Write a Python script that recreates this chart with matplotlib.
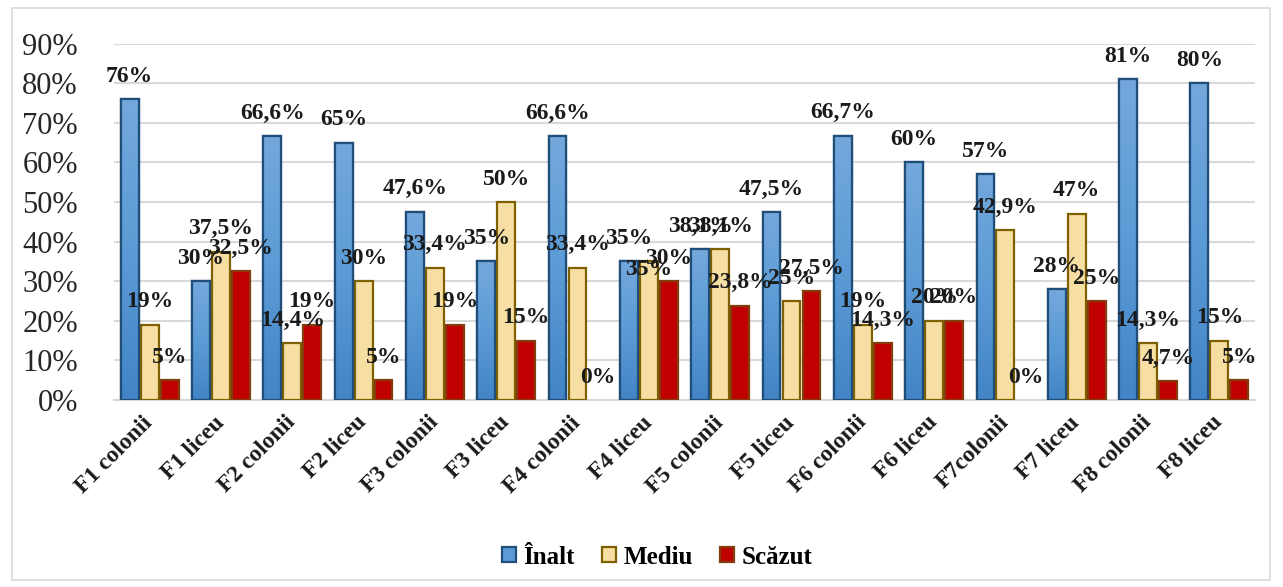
import matplotlib
matplotlib.use("Agg")
import matplotlib.pyplot as plt
from matplotlib.patches import Patch, Rectangle
from matplotlib.colors import LinearSegmentedColormap
import numpy as np

plt.rcParams['font.family'] = ['Liberation Serif', 'DejaVu Serif']

categories = ["F1 colonii", "F1 liceu", "F2 colonii", "F2 liceu", "F3 colonii",
              "F3 liceu", "F4 colonii", "F4 liceu", "F5 colonii", "F5 liceu",
              "F6 colonii", "F6 liceu", "F7colonii", "F7 liceu", "F8 colonii",
              "F8 liceu"]
inalt = [76, 30, 66.6, 65, 47.6, 35, 66.6, 35, 38.1, 47.5, 66.7, 60, 57, 28, 81, 80]
mediu = [19, 37.5, 14.4, 30, 33.4, 50, 33.4, 35, 38.1, 25, 19, 20, 42.9, 47, 14.3, 15]
scazut = [5, 32.5, 19, 5, 19, 15, 0, 30, 23.8, 27.5, 14.3, 20, 0, 25, 4.7, 5]
series_names = ["Înalt", "Mediu", "Scăzut"]

fills = ["#5B9BD5", "#F7DFA3", "#C00000"]
edges = ["#1F4E79", "#7F6000", "#843C0C"]
blue_grad = LinearSegmentedColormap.from_list("bg", ["#4384C6", "#5B9BD5", "#74A8DD"])

fig = plt.figure(figsize=(12.83, 5.87), dpi=100)
ax = fig.add_axes([114/1283, 1-400/587, (1255-114)/1283, (400-43.6)/587])

x = np.arange(len(categories))
w = 0.25
step = 0.28
# label offset overrides (series index, category index) -> points
label_dy = {(1, 7): -6}
grad = np.linspace(0, 1, 256).reshape(-1, 1)

for s, vals in enumerate([inalt, mediu, scazut]):
    xs = x + (s - 1) * step
    h = np.array(vals) / 100
    bars = ax.bar(xs, h, width=w, color=fills[s], edgecolor=edges[s],
                  linewidth=1.6, zorder=3)
    for b, v in zip(bars, vals):
        if v == 0:
            b.set_visible(False)
        elif s == 0:
            im = ax.imshow(grad, extent=[b.get_x(), b.get_x() + w, 0, b.get_height()],
                           origin='lower', aspect='auto', cmap=blue_grad, zorder=3.1)
            im.set_clip_path(b)
            ax.bar(b.get_x() + w / 2, b.get_height(), width=w, fill=False,
                   edgecolor=edges[s], linewidth=1.6, zorder=3.2)
    for i, v in enumerate(vals):
        txt = f"{v:g}".replace('.', ',') + '%'
        dy = label_dy.get((s, i), 16.5)
        ax.annotate(txt, (xs[i], v / 100), xytext=(0, dy), textcoords='offset points',
                    ha='center', va='center', fontsize=17, fontweight='bold',
                    color='#1a1a1a', zorder=5)

ax.set_xlim(-0.5, len(categories) - 0.5)
ax.set_ylim(0, 0.9)
ax.set_yticks(np.arange(0, 0.91, 0.1))
ax.set_yticklabels([f"{int(round(t*100))}%" for t in np.arange(0, 0.91, 0.1)],
                   fontsize=22, color='#262626')
ax.set_xticks(x)
ax.set_xticklabels(categories, rotation=45, ha='right', va='center',
                   rotation_mode='anchor', fontsize=17, fontweight='bold', color='#1a1a1a')
ax.tick_params(axis='x', length=0, pad=14)
ax.tick_params(axis='y', length=0, pad=26)
ax.grid(axis='y', color='#d9d9d9', linewidth=1.5, zorder=0)
for sp in ['top', 'right', 'left']:
    ax.spines[sp].set_visible(False)
ax.spines['bottom'].set_color('#d9d9d9')
ax.spines['bottom'].set_linewidth(1.5)

handles = [Patch(facecolor=fills[k], edgecolor=edges[k], linewidth=1.6) for k in range(3)]
fig.legend(handles, series_names, loc='center', bbox_to_anchor=(657/1283, 1-557/587),
           ncol=3, frameon=False, prop={'weight': 'bold', 'size': 18},
           handlelength=0.55, handleheight=0.55, handletextpad=0.3, columnspacing=1.1)

fig.patches.append(Rectangle((12/1283, 7/587), 1258/1283, 572/587, transform=fig.transFigure,
                             fill=False, edgecolor='#d9d9d9', linewidth=1.2))

fig.savefig("out.png", dpi=100)
